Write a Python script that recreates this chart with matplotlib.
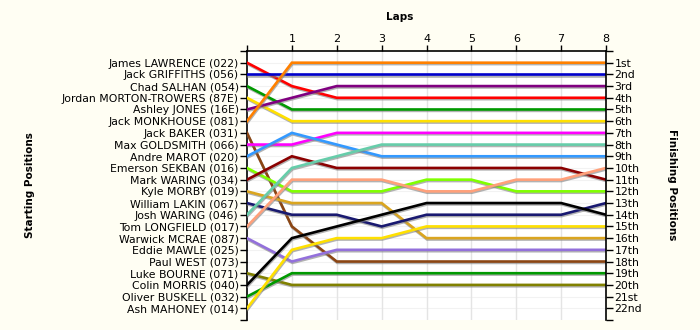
import matplotlib
matplotlib.use('Agg')
import matplotlib.pyplot as plt
import matplotlib.patheffects as pe

# voltas 0..8
laps = [0, 1, 2, 3, 4, 5, 6, 7, 8]

starters = ['James LAWRENCE (022)', 'Jack GRIFFITHS (056)', 'Chad SALHAN (054)',
            'Jordan MORTON-TROWERS (87E)', 'Ashley JONES (16E)', 'Jack MONKHOUSE (081)',
            'Jack BAKER (031)', 'Max GOLDSMITH (066)', 'Andre MAROT (020)',
            'Emerson SEKBAN (016)', 'Mark WARING (034)', 'Kyle MORBY (019)',
            'William LAKIN (067)', 'Josh WARING (046)', 'Tom LONGFIELD (017)',
            'Warwick MCRAE (087)', 'Eddie MAWLE (025)', 'Paul WEST (073)',
            'Luke BOURNE (071)', 'Colin MORRIS (040)', 'Oliver BUSKELL (032)',
            'Ash MAHONEY (014)']

finish_labels = ['1st', '2nd', '3rd', '4th', '5th', '6th', '7th', '8th', '9th', '10th',
                 '11th', '12th', '13th', '14th', '15th', '16th', '17th', '18th', '19th',
                 '20th', '21st', '22nd']

# posicao em cada volta
lawrence = [1, 3, 4, 4, 4, 4, 4, 4, 4]
griffiths = [2, 2, 2, 2, 2, 2, 2, 2, 2]
salhan = [3, 5, 5, 5, 5, 5, 5, 5, 5]
morton = [4, 6, 6, 6, 6, 6, 6, 6, 6]
jones = [5, 4, 3, 3, 3, 3, 3, 3, 3]
monkhouse = [6, 1, 1, 1, 1, 1, 1, 1, 1]
baker = [7, 15, 18, 18, 18, 18, 18, 18, 18]
goldsmith = [8, 8, 7, 7, 7, 7, 7, 7, 7]
marot = [9, 7, 8, 9, 9, 9, 9, 9, 9]
sekban = [10, 12, 12, 12, 11, 11, 12, 12, 12]
m_waring = [11, 9, 10, 10, 10, 10, 10, 10, 11]
morby = [12, 13, 13, 13, 16, 16, 16, 16, 16]
lakin = [13, 14, 14, 15, 14, 14, 14, 14, 13]
j_waring = [14, 10, 9, 8, 8, 8, 8, 8, 8]
longfield = [15, 11, 11, 11, 12, 12, 11, 11, 10]
mcrae = [16, 18, 17, 17, 17, 17, 17, 17, 17]
bourne = [19, 20, 20, 20, 20, 20, 20, 20, 20]
morris = [20, 16, 15, 14, 13, 13, 13, 13, 14]
buskell = [21, 19, 19, 19, 19, 19, 19, 19, 19]
mahoney = [22, 17, 16, 16, 15, 15, 15, 15, 15]

series = [
    (lawrence, '#FF0000'), (griffiths, '#0000CC'), (salhan, '#009900'),
    (morton, '#FFE000'), (jones, '#800080'), (monkhouse, '#FF8000'),
    (baker, '#8B4513'), (goldsmith, '#FF00FF'), (marot, '#3399FF'),
    (sekban, '#80FF00'), (m_waring, '#8B0000'), (morby, '#DAA520'),
    (lakin, '#191970'), (j_waring, '#66CDAA'), (longfield, '#FFA07A'),
    (mcrae, '#9370DB'), (bourne, '#808000'), (morris, '#000000'),
    (buskell, '#009900'), (mahoney, '#FFE000'),
]

bg = '#FFFEF3'
fig = plt.figure(figsize=(7, 3.3), dpi=100, facecolor=bg)
ax = fig.add_axes([247/700, 1 - 320/330, (606-247)/700, (320-51)/330])
ax.set_facecolor('white')

for pos, cor in series:
    ax.plot(laps, pos, color=cor, lw=1.9, solid_joinstyle='miter', zorder=3,
            path_effects=[pe.SimpleLineShadow(offset=(0.4, -1.0), shadow_color='#808080', alpha=0.6),
                          pe.Normal()])

ax.set_xlim(0, 8)
ax.set_ylim(23, 0)

for x in laps[1:-1]:
    ax.axvline(x, color='#E4E4E4', lw=1, zorder=1)
for y in range(1, 23):
    ax.axhline(y, color='#F2F2F2', lw=0.8, zorder=0)

ax.xaxis.tick_top()
ax.set_xticks(laps)
ax.set_xticklabels([''] + [str(l) for l in laps[1:]])
ax.set_yticks(range(0, 24))
ax.set_yticklabels([''] + starters + [''])
ax.tick_params(axis='y', direction='out', length=5, width=1, labelsize=7.8, pad=1)
ax.tick_params(axis='x', direction='out', length=4, width=1, labelsize=8, pad=1)

for s in ['bottom', 'right']:
    ax.spines[s].set_visible(False)
ax.spines['left'].set_linewidth(1.2)
ax.spines['top'].set_linewidth(1.2)

ax2 = ax.twinx()
ax2.set_ylim(23, 0)
ax2.set_yticks(range(0, 24))
ax2.set_yticklabels([''] + finish_labels + [''])
ax2.tick_params(axis='y', direction='out', length=5, width=1, labelsize=7.8, pad=1)
for s in ['bottom', 'left', 'top']:
    ax2.spines[s].set_visible(False)
ax2.spines['right'].set_linewidth(1.2)

fig.text(400/700, 1 - 17/330, 'Laps', ha='center', va='center', fontsize=7.5, fontweight='bold')
fig.text(30/700, 1 - 185/330, 'Starting Positions', ha='center', va='center',
         rotation=90, fontsize=7.5, fontweight='bold')
fig.text(672/700, 1 - 185/330, 'Finishing Positions', ha='center', va='center',
         rotation=270, fontsize=7.5, fontweight='bold')

fig.savefig('out.png', dpi=100, facecolor=bg)
